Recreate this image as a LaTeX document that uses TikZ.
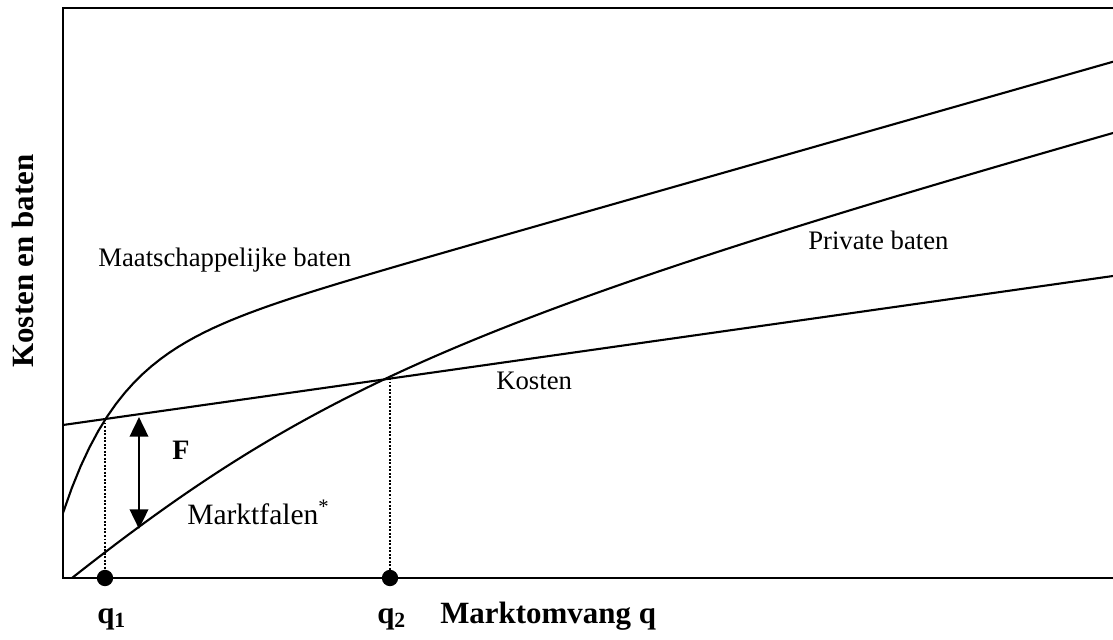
\documentclass[tikz,border=0pt]{standalone}
\usepackage{fontspec}
\setmainfont{Liberation Serif}
\usetikzlibrary{arrows.meta}

\begin{document}
\begin{tikzpicture}[x=0.025cm, y=0.025cm,
    curve/.style={line width=1.5pt, line join=round},
    dotline/.style={line width=1.6pt, dash pattern=on 1.4pt off 1.1pt},
    lbl/.style={inner sep=0pt, anchor=base west, font=\fontsize{19}{23}\selectfont},
    blbl/.style={inner sep=0pt, anchor=base west, font=\fontsize{22}{26}\selectfont\bfseries},
    dot/.style={circle, fill, inner sep=0pt, minimum size=11.6pt}]
        \useasboundingbox (-63,-61) rectangle (1050,578);
        % --- Draw frame and axis ---
        \draw[line width=1.5pt] (1050,570) -- (0,570) -- (0,0) -- (1050,0);
        % --- Draw curves ---
        \draw[curve] (0,153) -- (1050,302);
        \draw[curve] plot[domain=0:1050, samples=120] (\x, {65+0.285*\x+152*(1-exp(-\x/55))});
        \draw[curve] (9,0) .. controls (250,190) and (410,262) .. (1050,445);
        % --- Intersections and market sizes ---
        \coordinate (s1) at (42,159);
        \coordinate (s2) at (327,200);
        \node[dot] (d1) at (42,0) {};
        \node[dot] (d2) at (327,0) {};
        \draw[dotline] (s1) -- (d1);
        \draw[dotline] (s2) -- (d2);
        % --- Market failure arrow ---
        \coordinate (ftop) at (76,161);
        \coordinate (fbot) at (76,49);
        \draw[line width=2pt, {Triangle[length=14pt,width=13pt]}-{Triangle[length=14pt,width=13pt]}] (ftop) -- (fbot);
        % --- Labels ---
        \node[lbl] (maatsch) at (35,311) {Maatschappelijke baten};
        \node[lbl] (private) at (745,328) {Private baten};
        \node[lbl] (kosten) at (433,188) {Kosten};
        \node[lbl, font=\fontsize{21}{25}\selectfont] (falen) at (124,54) {Marktfalen\textsuperscript{*}};
        \node[blbl, font=\fontsize{20}{24}\selectfont\bfseries] (F) at (109,118) {F};
        \node[blbl] (q1) at (34,-45) {q\textsubscript{1}};
        \node[blbl] (q2) at (314,-45) {q\textsubscript{2}};
        \node[blbl] (xlab) at (377,-45) {Marktomvang q};
        \node[blbl, anchor=base, rotate=90] (ylab) at (-30,317) {Kosten en baten};
        % ---
    \end{tikzpicture}
\end{document}
